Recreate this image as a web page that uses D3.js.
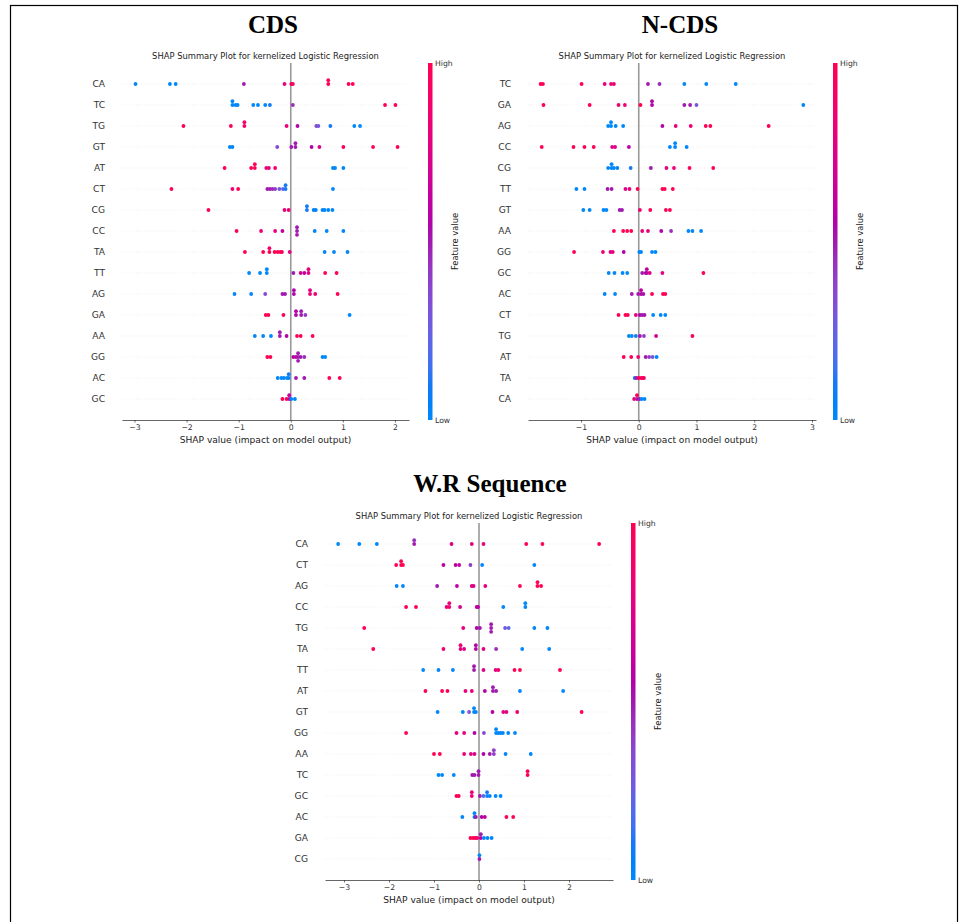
<!DOCTYPE html>
<html><head><meta charset="utf-8">
<script src="https://cdn.jsdelivr.net/npm/d3@7"></script>
<style>body{margin:0;background:#fff} svg{display:block}</style>
</head><body>
<svg id="chart" width="968" height="922"></svg>
<script>
// ---------- DATA ----------
const cdsFeatures = ["CA","TC","TG","GT","AT","CT","CG","CC","TA","TT","AG","GA","AA","GG","AC","GC"];
const ncdsFeatures = ["TC","GA","AG","CC","CG","TT","GT","AA","GG","GC","AC","CT","TG","AT","TA","CA"];
const wrFeatures = ["CA","CT","AG","CC","TG","TA","TT","AT","GT","GG","AA","TC","GC","AC","GA","CG"];

const cdsTicks = [-3,-2,-1,0,1,2];
const ncdsTicks = [-1,0,1,2,3];
const wrTicks = [-3,-2,-1,0,1,2];

// each row: [SHAP value, feature value (0 = low, 1 = high)]
const cdsPoints = [
 [[-2.98,0],[-2.32,0],[-2.21,0],[-0.90,0.5],[-0.12,0.8],[0.01,0.9],[0.04,0.95],[0.72,1],[0.72,1],[1.11,1],[1.19,1]],
 [[-1.12,0],[-1.12,0],[-1.06,0],[-1.02,0],[-0.72,0],[-0.63,0],[-0.49,0],[-0.40,0.1],[0.04,0.45],[1.81,1],[2.01,1]],
 [[-2.06,1],[-1.15,1],[-0.89,0.9],[-0.89,0.9],[-0.08,0.8],[0.13,0.55],[0.49,0.35],[0.53,0.3],[0.76,0.1],[1.22,0],[1.33,0]],
 [[-1.17,0],[-1.12,0],[-0.26,0.35],[0.01,0.5],[0.09,0.5],[0.09,0.5],[0.40,0.55],[0.55,0.75],[1.01,0.95],[1.58,1],[2.05,1]],
 [[-1.27,1],[-0.76,1],[-0.69,1],[-0.69,1],[-0.47,0.8],[-0.42,0.8],[-0.30,0.9],[0.81,0],[0.85,0],[1.01,0]],
 [[-2.29,1],[-1.12,0.85],[-1.01,1],[-0.45,0.5],[-0.40,0.5],[-0.35,0.45],[-0.30,0.4],[-0.22,0.3],[-0.15,0.2],[-0.10,0.1],[-0.10,0.1],[0.81,0]],
 [[-1.58,1],[-0.12,0.8],[-0.04,0.85],[0.31,0.1],[0.31,0.1],[0.44,0.05],[0.48,0.05],[0.61,0],[0.65,0],[0.72,0],[0.80,0]],
 [[-1.04,1],[-0.57,0.85],[-0.30,0.8],[-0.16,0.6],[0.12,0.5],[0.12,0.5],[0.12,0.5],[0.46,0],[0.69,0],[1.01,0]],
 [[-0.88,1],[-0.53,1],[-0.41,1],[-0.41,0.9],[-0.31,1],[-0.25,1],[-0.20,1],[-0.17,0.95],[-0.02,0.8],[0.65,0],[0.83,0],[1.09,0]],
 [[-0.80,0],[-0.59,0],[-0.46,0],[-0.46,0],[0.05,0.5],[0.19,0.7],[0.26,0.6],[0.34,0.8],[0.34,0.8],[0.66,1],[0.88,1]],
 [[-1.08,0],[-0.76,0],[-0.49,0.35],[-0.16,0.5],[-0.11,0.5],[0.06,0.55],[0.06,0.55],[0.37,0.85],[0.37,0.8],[0.47,0.85],[0.90,1]],
 [[-0.48,1],[-0.43,1],[-0.14,1],[0.10,0.55],[0.10,0.55],[0.20,0.5],[0.20,0.5],[0.28,0.4],[1.13,0]],
 [[-0.69,0],[-0.53,0],[-0.38,0],[-0.21,0.5],[-0.21,0.5],[-0.08,0.55],[0.12,1],[0.19,1],[0.42,1]],
 [[-0.45,1],[-0.39,1],[0.05,0.6],[0.10,0.55],[0.14,0.5],[0.14,0.5],[0.14,0.5],[0.19,0.5],[0.26,0.45],[0.61,0],[0.66,0]],
 [[-0.25,0],[-0.18,0],[-0.13,0],[-0.07,0],[-0.04,0],[-0.04,0.1],[0.10,0.5],[0.26,0.5],[0.74,1],[0.94,1]],
 [[-0.16,1],[-0.08,1],[-0.03,0.6],[-0.03,0.6],[0.01,0],[0.08,0]]
];

const ncdsPoints = [
 [[-1.70,1],[-1.66,1],[-0.99,1],[-0.59,0.8],[-0.48,0.85],[-0.43,0.85],[0.16,0.5],[0.36,0.45],[0.79,0],[1.17,0],[1.68,0]],
 [[-1.65,1],[-0.85,1],[-0.35,0.85],[-0.24,0.85],[0.03,1],[0.23,0.55],[0.23,0.55],[0.79,0.5],[0.89,0.5],[1.00,0.3],[2.85,0]],
 [[-0.53,0],[-0.48,0],[-0.48,0],[-0.40,0],[-0.27,0],[0.41,0.55],[0.64,0.8],[0.90,0.85],[1.16,1],[1.24,1],[2.25,1]],
 [[-1.68,1],[-1.13,1],[-0.94,1],[-0.78,1],[-0.46,0.75],[-0.41,0.75],[-0.17,0.6],[0.54,0],[0.63,0],[0.63,0],[0.83,0]],
 [[-0.53,0],[-0.47,0],[-0.47,0],[-0.43,0],[-0.37,0],[-0.14,0.1],[0.21,0.5],[0.48,0.8],[0.61,0.85],[0.88,1],[1.29,1]],
 [[-1.08,0],[-0.94,0],[-0.54,0.5],[-0.47,0.5],[-0.23,0.75],[-0.16,0.8],[-0.02,1],[0.41,1],[0.45,1],[0.59,1]],
 [[-0.96,0],[-0.85,0],[-0.61,0],[-0.56,0],[-0.33,0.5],[-0.29,0.5],[0.02,0.85],[0.20,1],[0.47,1],[0.54,1]],
 [[-0.43,1],[-0.27,1],[-0.20,1],[-0.13,1],[0.06,0.8],[0.16,0.8],[0.39,0.55],[0.56,0.45],[0.86,0],[0.93,0],[1.08,0]],
 [[-1.12,1],[-0.62,0.85],[-0.49,0.8],[-0.45,0.8],[-0.26,0.55],[0.01,0],[0.04,0],[0.23,0],[0.29,0]],
 [[-0.52,0],[-0.42,0],[-0.28,0],[-0.20,0],[0.06,0.5],[0.12,0.5],[0.14,0.6],[0.14,0.6],[0.19,0.75],[0.41,0.8],[1.12,1]],
 [[-0.59,0],[-0.41,0],[-0.12,0.5],[-0.01,0.5],[0.04,0.6],[0.04,0.6],[0.08,0.5],[0.23,1],[0.42,1],[0.46,1]],
 [[-0.35,1],[-0.23,1],[-0.19,1],[-0.05,0.8],[0.02,0.55],[0.06,0.5],[0.10,0.5],[0.25,0],[0.38,0],[0.46,0]],
 [[-0.17,0],[-0.12,0],[-0.05,0.1],[0.02,0.5],[0.09,0.4],[0.30,0.7],[0.93,1]],
 [[-0.26,1],[-0.13,1],[-0.01,0.85],[0.12,0.5],[0.18,0.4],[0.24,0.3],[0.31,0]],
 [[-0.07,0.1],[-0.04,0.5],[0.00,1],[0.04,1],[0.07,0.9],[0.09,0.9]],
 [[-0.08,0.9],[-0.03,0.5],[-0.03,1],[0.01,0.5],[0.05,0],[0.10,0]]
];

const wrPoints = [
 [[-3.13,0],[-2.66,0],[-2.27,0],[-1.44,0.5],[-1.44,0.45],[-0.61,0.7],[-0.16,0.8],[0.10,0.8],[1.05,1],[1.41,1],[2.67,1]],
 [[-1.84,1],[-1.73,1],[-1.73,1],[-1.69,1],[-0.79,0.6],[-0.52,0.6],[-0.44,0.6],[-0.19,0.4],[0.07,0],[1.23,0]],
 [[-1.83,0],[-1.69,0],[-0.93,0.5],[-0.49,0.6],[-0.16,0.75],[-0.12,0.75],[0.14,0.8],[0.91,1],[1.30,1],[1.30,1],[1.38,1]],
 [[-1.62,1],[-1.40,1],[-0.72,0.85],[-0.66,0.85],[-0.66,0.8],[-0.42,0.7],[-0.05,0.6],[-0.02,0.6],[0.54,0],[1.03,0],[1.03,0]],
 [[-2.55,1],[-0.35,0.8],[-0.05,0.55],[0.02,0.5],[0.27,0.5],[0.27,0.5],[0.27,0.5],[0.58,0.3],[0.66,0.2],[1.23,0],[1.52,0]],
 [[-2.35,1],[-0.79,0.85],[-0.41,0.8],[-0.41,0.8],[-0.33,0.75],[-0.07,0.6],[-0.07,0.55],[0.10,0.8],[0.38,0.45],[0.96,0],[1.56,0]],
 [[-1.24,0],[-0.90,0],[-0.58,0],[-0.11,0.5],[-0.11,0.5],[0.10,0.75],[0.37,0.8],[0.43,0.85],[0.79,1],[0.91,1],[1.80,1]],
 [[-1.19,1],[-0.82,1],[-0.70,1],[-0.30,0.8],[-0.16,0.8],[0.13,0.55],[0.31,0.5],[0.31,0.5],[0.38,0.5],[0.91,0],[1.87,0]],
 [[-0.92,0],[-0.36,0],[-0.22,0.3],[-0.11,0],[-0.11,0],[-0.07,0],[0.30,0.55],[0.54,0.8],[0.61,0.8],[0.85,0.85],[2.28,1]],
 [[-1.62,1],[-0.50,0.8],[-0.33,0.8],[-0.10,0.55],[0.11,0.35],[0.38,0],[0.38,0],[0.43,0],[0.48,0],[0.53,0],[0.65,0],[0.80,0]],
 [[-1.00,1],[-0.87,1],[-0.33,0.8],[-0.18,0.75],[-0.10,0.75],[0.10,0.55],[0.24,0.5],[0.33,0.4],[0.33,0.4],[0.59,0],[1.15,0]],
 [[-0.90,0],[-0.82,0],[-0.56,0],[-0.15,0.5],[-0.10,0.5],[-0.01,0.5],[-0.01,0.5],[1.08,1],[1.08,1]],
 [[-0.50,1],[-0.45,1],[-0.16,0.85],[-0.16,0.8],[0.02,0.5],[0.10,0.2],[0.18,0],[0.18,0.1],[0.24,0],[0.37,0],[0.48,0]],
 [[-0.37,0],[-0.10,0.05],[-0.10,0],[-0.07,0.5],[0.06,0.55],[0.13,0.6],[0.61,1],[0.76,1]],
 [[-0.19,1],[-0.13,1],[-0.08,1],[-0.04,0.9],[0.04,0.6],[0.04,0.5],[0.11,0],[0.19,0],[0.28,0]],
 [[0.01,0.5],[0.01,0]]
];

const panelTitles = ["CDS","N-CDS","W.R Sequence"];
const subTitle = "SHAP Summary Plot for kernelized Logistic Regression";
const xLabel = "SHAP value (impact on model output)";

// ---------- LAYOUT ----------
const svg = d3.select("#chart");
const sans = "'DejaVu Sans', sans-serif";
// SHAP red_blue colormap (LCH path, lightness dips to 40 in the middle)
const H0 = 4.6588, H1 = 0.35470565 + 2*Math.PI;
function color(t){
  const L = t < 0.5 ? 54 + (40-54)*(t/0.5) : 40 + (54-40)*((t-0.5)/0.5);
  const C = 70 + 20*t;
  const H = (H0 + (H1-H0)*t) * 180/Math.PI;
  return d3.hcl(H % 360, C, L).formatRgb();
}

svg.append("rect").attr("x",10.5).attr("y",5.5).attr("width",947).attr("height",940)
  .attr("fill","none").attr("stroke","#000").attr("stroke-width",1.2);

const defs = svg.append("defs");
const grad = defs.append("linearGradient").attr("id","cb").attr("x1",0).attr("y1",1).attr("x2",0).attr("y2",0);
d3.range(0,1.0001,0.05).forEach(t=>grad.append("stop").attr("offset",t).attr("stop-color",color(t)));

const panels = [
  {title:panelTitles[0], tx:273, ty:33, features:cdsFeatures, points:cdsPoints, ticks:cdsTicks,
   xr:[122,409], xd:[-3.24,2.27], y0:84, y1:399, cbx:428},
  {title:panelTitles[1], tx:680, ty:33, features:ncdsFeatures, points:ncdsPoints, ticks:ncdsTicks,
   xr:[528,816], xd:[-1.918,3.07], y0:84, y1:399, cbx:833},
  {title:panelTitles[2], tx:490, ty:492, features:wrFeatures, points:wrPoints, ticks:wrTicks,
   xr:[325,613], xd:[-3.422,2.978], y0:544, y1:859, cbx:631}
];

panels.forEach(p=>{
  const g = svg.append("g");
  const x = d3.scaleLinear().domain(p.xd).range(p.xr);
  const y = d3.scalePoint().domain(p.features).range([p.y0,p.y1]);
  const step = y.step();
  const top = p.y0 - step, bottom = p.y1 + step;
  const cx = (p.xr[0]+p.xr[1])/2;

  svg.append("text").attr("x",p.tx).attr("y",p.ty).attr("text-anchor","middle")
    .attr("font-family","'Liberation Serif','Times New Roman',serif").attr("font-weight","bold")
    .attr("font-size",25).attr("fill","#000").text(p.title);
  g.append("text").attr("x",cx).attr("y",top-4).attr("text-anchor","middle")
    .attr("font-family",sans).attr("font-size",8.4).attr("fill","#222").text(subTitle);

  g.selectAll("line.row").data(p.features).join("line")
    .attr("x1",p.xr[0]).attr("x2",p.xr[1]).attr("y1",d=>y(d)).attr("y2",d=>y(d))
    .attr("stroke","#d4d4d4").attr("stroke-width",0.6).attr("stroke-dasharray","0.6,2.2");

  g.append("line").attr("x1",x(0)).attr("x2",x(0)).attr("y1",top).attr("y2",bottom)
    .attr("stroke","#999").attr("stroke-width",1.6);

  const ax = g.append("g").attr("transform",`translate(0,${bottom})`)
    .call(d3.axisBottom(x).tickValues(p.ticks).tickFormat(d3.format("d")).tickSize(2.5).tickSizeOuter(0).tickPadding(2));
  ax.select(".domain").attr("stroke","#555").attr("stroke-width",0.9);
  ax.selectAll(".tick line").attr("stroke","#333").attr("stroke-width",0.7);
  ax.selectAll(".tick text").attr("font-family",sans).attr("font-size",7.7).attr("fill","#333");
  g.append("text").attr("x",cx).attr("y",bottom+23).attr("text-anchor","middle")
    .attr("font-family",sans).attr("font-size",9.1).attr("fill","#222").text(xLabel);

  g.selectAll("text.feat").data(p.features).join("text")
    .attr("x",p.xr[0]-17).attr("y",d=>y(d)).attr("dy","0.35em").attr("text-anchor","end")
    .attr("font-family",sans).attr("font-size",9.1).attr("fill","#333").text(d=>d);

  p.points.forEach((row,ri)=>{
    const layers = [];
    const seen = new Map();
    row.forEach(([v,f])=>{
      const k = v.toFixed(3);
      const layer = seen.get(k)||0;
      seen.set(k,layer+1);
      layers.push(Math.ceil(layer/2)*((layer%2)*2-1));
    });
    const scale = 0.9*(0.4/d3.max(layers,l=>l+1));
    const ry = y(p.features[ri]);
    g.selectAll(null).data(row).join("circle")
      .attr("cx",d=>x(d[0]))
      .attr("cy",(d,i)=>ry - layers[i]*scale*step)
      .attr("r",1.9)
      .attr("fill",d=>color(d[1]));
  });

  g.append("rect").attr("x",p.cbx).attr("y",top).attr("width",4.5).attr("height",bottom-top).attr("fill","url(#cb)");
  g.append("text").attr("x",p.cbx+7).attr("y",top).attr("dy","0.35em").attr("font-family",sans)
    .attr("font-size",7.7).attr("fill","#333").text("High");
  g.append("text").attr("x",p.cbx+7).attr("y",bottom).attr("dy","0.35em").attr("font-family",sans)
    .attr("font-size",7.7).attr("fill","#333").text("Low");
  g.append("text").attr("transform",`translate(${p.cbx+27},${(top+bottom)/2}) rotate(-90)`)
    .attr("text-anchor","middle").attr("dy","0.35em").attr("font-family",sans)
    .attr("font-size",8.4).attr("fill","#222").text("Feature value");
});
</script>
</body></html>
